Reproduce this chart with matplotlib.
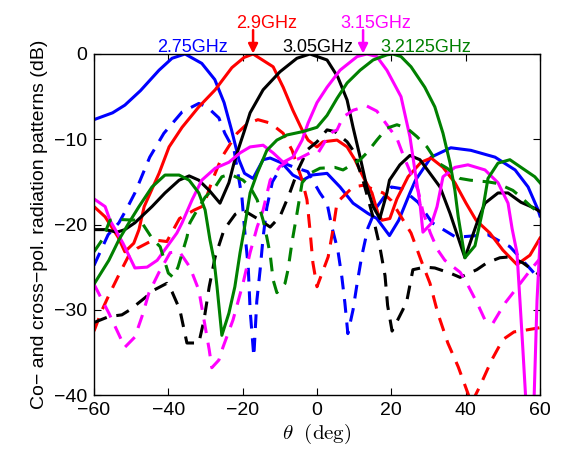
import matplotlib
matplotlib.use("Agg")
import matplotlib.pyplot as plt

plt.rcParams['font.family'] = ['Liberation Sans', 'DejaVu Sans']
plt.rcParams['mathtext.fontset'] = 'cm'

# 2.75 GHz
b_co_t = [-60, -55, -51.7, -47.5, -42.5, -39, -35.5, -31, -27.5, -25, -23, -21, -19.5, -17.2, -14.5, -12.6, -9.4, -6.5, -3.8, -1.4, 2.7, 6.2, 9.7, 13.7, 16.1, 19.5, 22, 25, 26.5, 30.7, 36, 41.4, 47.9, 53.3, 56.8, 59.5, 60]
b_co_v = [-7.7, -6.9, -6.0, -4.3, -1.9, -0.5, 0, -1.1, -3.0, -5.7, -8.9, -12.4, -14, -14.6, -12.4, -12.2, -12.8, -14.2, -14.8, -14.2, -14.0, -15.6, -17.5, -18.7, -19.3, -21.3, -19.5, -16.3, -14.8, -12.1, -11.0, -11.3, -12.1, -13.6, -15.6, -18.3, -19]
b_x_t = [-60, -56.2, -53.3, -51, -49, -45, -41.2, -36.3, -31.8, -29.6, -26.4, -24.8, -22.3, -20.2, -19.4, -18.5, -18, -17, -16.2, -15.3, -14.5, -13.5, -12, -9, -6, -2.5, 0.8, 2.7, 4, 5.6, 6.7, 7.5, 8.3, 9.7, 10.8, 12, 13.7, 16, 20, 22.8, 27.2, 31, 37.4, 46, 51.9, 57.6, 60]
b_x_v = [-24.8, -21.2, -19.8, -18, -16.3, -12.1, -9.3, -6.8, -5.8, -6.2, -7.5, -9.3, -11.3, -16.8, -21, -25, -30, -35.5, -29, -25.3, -21.5, -18, -15, -12.8, -13.3, -13.8, -16.3, -17.5, -20.3, -23, -26.2, -29.2, -32.8, -30, -26.9, -23.8, -20.4, -18, -15.6, -15.8, -17.4, -19.8, -21.5, -21.2, -22.6, -25.3, -26.5]

# 2.9 GHz
r_co_t = [-60, -57, -53.5, -51.7, -49.3, -47.9, -46.5, -42.5, -39.8, -36.3, -31.8, -27.4, -22.9, -19.6, -17.2, -11.8, -9.1, -6.5, -4, -2.4, 0, 1.6, 5.4, 8.1, 10.2, 12.4, 14.8, 16.4, 17.5, 19.6, 21.5, 24.5, 28, 30.7, 33.9, 37.1, 40.1, 42.8, 46.5, 50, 53.8, 57.3, 60]
r_co_v = [-17.9, -19.1, -21.5, -23.2, -22.2, -20.6, -17.9, -14, -10.9, -8.6, -6.2, -4.2, -1.6, -0.4, 0, -1.5, -3.9, -6.6, -8.9, -10.1, -10.9, -10.3, -10.1, -10.9, -12.4, -14.4, -16.3, -18.7, -19.5, -19.3, -17, -14.4, -12.7, -12.2, -13.3, -15.1, -17.5, -19.5, -21, -23, -24.7, -23.6, -21.6]
r_x_t = [-60, -57.8, -56, -53.3, -50.6, -48.4, -44, -40.4, -37, -33, -30.5, -28.8, -27.4, -25.6, -21.5, -18.8, -15.9, -12.6, -9.1, -6.7, -4, -2.7, -1.9, -1.1, 0, 3, 4.3, 5.4, 9.7, 12.4, 17.8, 20, 22.5, 25.3, 28, 30.4, 32.5, 35.2, 38, 40.6, 41.5, 43.8, 47, 50, 53, 56, 60]
r_x_v = [-32.5, -30, -28.3, -25.9, -23.6, -22.8, -21.8, -22, -19.3, -18.3, -17.8, -15.6, -14, -12.1, -9.3, -8.2, -7.7, -8.1, -9.3, -11.3, -14.8, -17.1, -20.6, -24.5, -27.3, -23.8, -20.6, -17.4, -15.6, -15.4, -16.3, -17.2, -19, -21, -24.2, -26.9, -30.4, -33.9, -36.7, -39.8, -41, -39, -35.9, -33.5, -32.6, -32.4, -32.1]

# 3.05 GHz
k_co_t = [-60, -57, -53.8, -51.7, -49, -44.4, -40.9, -37.1, -34.4, -31.8, -29, -26.1, -23.7, -22.1, -19.6, -18, -14.5, -10, -5.4, -1.9, 2.7, 5.6, 8.1, 9.7, 11.6, 13.4, 15.1, 16.9, 18.8, 19.5, 22.3, 25, 27.7, 30.4, 33.1, 35.8, 39.8, 43.3, 45.2, 48.7, 51.4, 54.9, 58.6, 60]
k_co_v = [-20.6, -20.6, -20.9, -20.6, -19.8, -17.9, -16.3, -14.8, -14.3, -14.8, -16, -17.5, -15.1, -12.4, -9.1, -6.9, -4.2, -2.1, -0.5, 0, -0.7, -2.7, -5.4, -8.6, -12.1, -15.6, -17.9, -19.3, -16.3, -14.8, -13, -11.9, -12.4, -14, -15.6, -18.7, -23.9, -19.5, -17.5, -16.3, -16.3, -17.4, -18.1, -18.5]
k_x_t = [-60, -56, -52.5, -50.3, -46.3, -43.9, -40.4, -39, -36.9, -35, -31.8, -30.4, -29, -27.4, -25, -22, -19.9, -15.3, -12.6, -10, -7.5, -5, -2.5, 0, 2.7, 4.8, 8.1, 9.7, 12.5, 15, 16.9, 18.3, 19, 20.2, 23.1, 24.2, 25.8, 29, 31.7, 35.8, 38.5, 43, 45.7, 49.2, 51.9, 55.4, 59.2, 60]
k_x_v = [-31.5, -30.8, -30.6, -30, -28.6, -27.7, -26.9, -27.9, -30, -33.9, -33.9, -31.2, -27.3, -23.8, -20.6, -18.8, -18.3, -19.5, -20.3, -19.1, -16.5, -13.5, -11.2, -10.3, -8.9, -9.1, -10.3, -11.3, -15, -19, -22.6, -26, -29.5, -32.5, -30, -28.9, -25.3, -25, -25.1, -25.7, -26.2, -25.3, -24.5, -23.9, -23.8, -24.5, -25.7, -26]

# 3.15 GHz
m_co_t = [-60, -57, -55.7, -52.2, -49, -45.7, -43, -37.7, -36.3, -33.6, -31, -27.4, -23.7, -20.7, -18, -14.5, -11.8, -9.1, -6.5, -4, -2.4, 0, 2.7, 6.2, 10.8, 13.4, 16.1, 18.8, 22.6, 25, 26.6, 27.7, 28.5, 30.9, 32.3, 33.9, 37.1, 40.6, 45.2, 48.7, 51.4, 52.5, 53.8, 54.6, 55.4, 56.5, 57.5, 58.3, 59.2, 60]
m_co_v = [-17, -17.9, -19.5, -22.2, -25.1, -25, -24.2, -21, -19.8, -17.1, -14.8, -13.4, -12.7, -11.6, -10.9, -10.7, -11.6, -12.7, -12.1, -10.1, -8.1, -5.7, -3.9, -1.9, -0.3, 0, -0.3, -1.9, -5, -9.7, -14.4, -17.5, -20.9, -19.8, -17.9, -14.4, -13.3, -13, -13.6, -15.1, -17.5, -20.5, -23.3, -28.9, -34.7, -43, -48, -42, -28.9, -22]
m_x_t = [-60, -56, -51.7, -49, -47.1, -45.2, -42.5, -39.5, -37, -34.2, -31.8, -30.4, -29, -28.3, -26.4, -25.3, -22.6, -19.9, -18, -16.1, -14.5, -12.6, -10, -7.5, -5, -1.9, 0.3, 3.5, 5.4, 7, 9.7, 13.4, 16.1, 18.8, 21.5, 23.5, 27.2, 28.5, 30.5, 32.5, 34.4, 38.5, 40.1, 42, 43.3, 45.2, 47.3, 49.5, 50.8, 53.3, 55.4, 57.5, 60]
m_x_v = [-27, -30.4, -34.4, -33.2, -30.8, -28, -25.6, -23.3, -23.2, -25, -27.7, -31.2, -34.7, -36.8, -35.9, -34.4, -31.2, -26.9, -23.3, -20.3, -18.3, -14.8, -13.2, -12.5, -12.3, -11.6, -11.6, -9.3, -8.9, -7.4, -6.6, -6.1, -6.7, -8.3, -9.9, -12.2, -16, -18.5, -21, -23, -24.2, -25.6, -26.7, -28.3, -29.4, -31.2, -31.6, -30, -29.1, -27.7, -26.5, -25.3, -24]

# 3.2125 GHz
g_co_t = [-60, -56, -53.3, -50.6, -47.9, -44.4, -40.9, -37.1, -34.4, -31.8, -30.1, -28.8, -27.7, -26.9, -25.6, -23.7, -22.1, -20.7, -19.6, -18, -16.1, -13.5, -10.8, -8.1, -3.8, 0, 2.7, 5.4, 8.1, 11.6, 15.1, 18.8, 20.4, 22.6, 25.3, 29, 31.7, 33.9, 35.8, 37.1, 38, 39.8, 42.5, 44.5, 46, 48.7, 51.9, 54.9, 58.6, 60]
g_co_v = [-27, -24.2, -21.8, -19.8, -17.9, -15.6, -14.2, -14.2, -14.8, -16.3, -18.3, -21.8, -24.2, -27.3, -33, -30.4, -27.3, -23.3, -20.6, -16.3, -14, -11.3, -10.1, -9.5, -9.1, -8.6, -7.2, -5.2, -3.4, -1.9, -0.7, -0.1, 0, -0.3, -1.5, -3.9, -6.2, -9.3, -12.8, -16, -19.1, -23.9, -22.5, -18.5, -14.6, -12.8, -12.4, -13.3, -14.4, -15.1]
g_x_t = [-60, -57.8, -55.7, -53.8, -48.4, -47.1, -44.1, -42.2, -41.2, -40, -38.7, -37.4, -35, -34.2, -32.5, -30.1, -27.4, -25.6, -23.4, -19.9, -18, -16.1, -14.5, -13.5, -12.6, -11.8, -10.8, -8.6, -7.8, -6.7, -5.5, -4, -1.9, 0.8, 4.8, 7, 11.6, 13.4, 16.1, 18.8, 21.5, 24.2, 26.9, 29.6, 32.3, 35, 38.5, 41.2, 46, 48.7, 52.7, 54.9, 57.6, 60]
g_x_v = [-23.2, -21.8, -19.5, -19.4, -19.5, -19.8, -21.8, -22.6, -24, -25.7, -26.2, -25, -21.5, -19.8, -18.5, -16.8, -15.6, -14.4, -14.1, -14.8, -15.6, -17.1, -19.5, -21.5, -23.5, -26.5, -28, -26.9, -25.3, -22, -19, -15.1, -14, -13.4, -13.3, -13.6, -12.4, -11.6, -10.1, -8.7, -8.3, -8.7, -9.7, -10.9, -12.7, -13.4, -14.6, -14.8, -15, -15.2, -16, -16.8, -17.9, -18.7]

freq_labels = ['2.75GHz', '2.9GHz', '3.05GHz', '3.15GHz', '3.2125GHz']
colors = ['#0000ff', '#ff0000', '#000000', '#ff00ff', '#008000']
series = [
    (b_co_t, b_co_v, b_x_t, b_x_v),
    (r_co_t, r_co_v, r_x_t, r_x_v),
    (k_co_t, k_co_v, k_x_t, k_x_v),
    (m_co_t, m_co_v, m_x_t, m_x_v),
    (g_co_t, g_co_v, g_x_t, g_x_v),
]

fig = plt.figure(figsize=(5.62, 4.58), dpi=100)
ax = fig.add_axes([94/562, 1-395/458, 446/562, 341/458])

lw = 2.2
for (ct, cv, xt, xv), c in zip(series, colors):
    ax.plot(ct, cv, color=c, lw=lw, solid_joinstyle='round')
    ax.plot(xt, xv, color=c, lw=lw, linestyle=(0, (4.5, 3.2)), dash_capstyle='butt')

ax.set_xlim(-60, 60)
ax.set_ylim(-40, 0)
ax.set_xticks([-60, -40, -20, 0, 20, 40, 60])
ax.set_yticks([-40, -30, -20, -10, 0])
ax.set_xticklabels(['\u221260', '\u221240', '\u221220', '0', '20', '40', '60'])
ax.set_yticklabels(['\u221240', '\u221230', '\u221220', '\u221210', '0'])
ax.tick_params(direction='in', top=True, right=True, labelsize=14, length=5, width=0.8, pad=5)
for s in ax.spines.values():
    s.set_linewidth(1.0)

ax.set_xlabel(r'$\theta\ \ \mathrm{(deg)}$', fontsize=15, labelpad=2)
ax.set_ylabel('Co\u2212 and cross\u2212pol. radiation patterns (dB)', fontsize=14, labelpad=4)

# frequency labels
lab_x = [-33.5, -13.5, 0.2, 15.9, 29.3]
lab_y = [0.25, 3.05, 0.25, 3.05, 0.25]
for t, x, y, c in zip(freq_labels, lab_x, lab_y, colors):
    ax.text(x, y, t, color=c, fontsize=13, ha='center', va='baseline', clip_on=False)

arrow_x = [-17.2, 12.4]
for x, c in zip(arrow_x, [colors[1], colors[3]]):
    ax.annotate('', xy=(x, 0.05), xytext=(x, 2.8),
                arrowprops=dict(arrowstyle='-|>', color=c, lw=1.8, mutation_scale=14,
                                shrinkA=0, shrinkB=0),
                annotation_clip=False)

fig.savefig('out.png', dpi=100)
